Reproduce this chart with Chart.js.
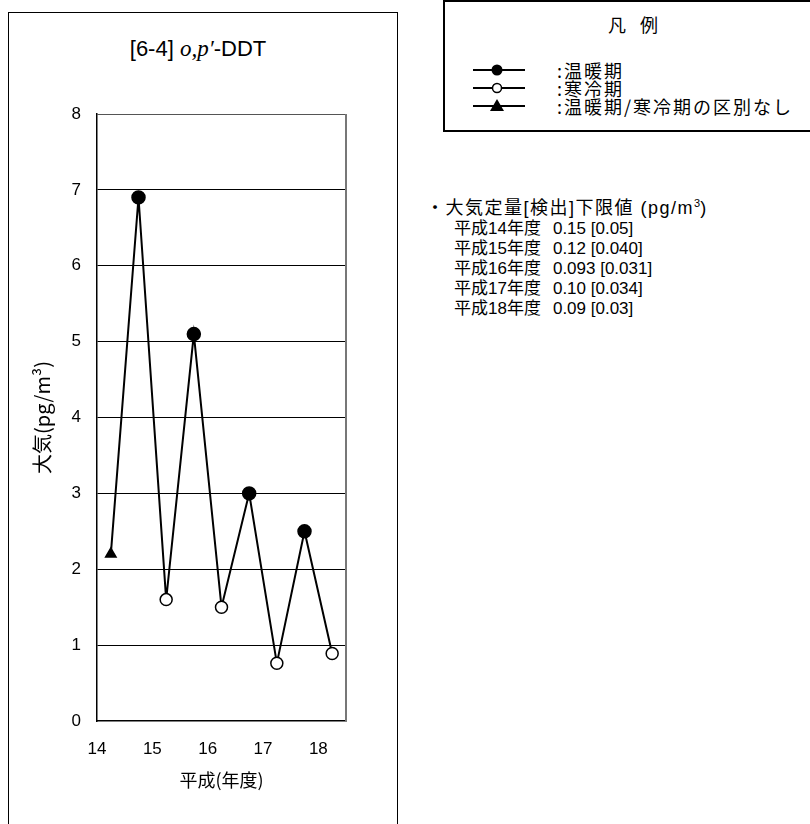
<!DOCTYPE html>
<html lang="ja">
<head>
<meta charset="utf-8">
<title>o,p'-DDT 大気</title>
<script src="https://cdn.jsdelivr.net/npm/chart.js@4.4.1/dist/chart.umd.min.js"></script>
<style>
  html, body { margin: 0; padding: 0; background: #fff; overflow: hidden; }
  body { width: 810px; height: 824px; position: relative;
         font-family: "Liberation Sans", "Noto Sans CJK JP", sans-serif; color: #000; }
  #panel { position: absolute; left: 8px; top: 12px; width: 388px; height: 830px;
           border: 1px solid #000; }
  #chart-wrap { position: absolute; left: 9px; top: 13px; width: 387px; height: 811px; }
  #title { position: absolute; left: 8px; top: 36px; width: 380px; text-align: center;
           font-size: 22px; line-height: 26px; }
  #title i { font-family: "Liberation Serif", serif; font-size: 23px; }
  #legend { position: absolute; left: 443px; top: 0px; width: 400px; height: 132px;
            border: 2px solid #000; box-sizing: border-box; }
  #legend .head { position: absolute; left: 0; width: 390px; top: 10px; text-align: center;
                  font-size: 18px; line-height: 24px; letter-spacing: 14px;
                  font-family: "Noto Sans CJK JP", sans-serif; }
  #legend .row { position: absolute; left: 28px; height: 18px; font-size: 18px;
                 font-family: "Noto Sans CJK JP", sans-serif; line-height: 18px; }
  #legend .row svg { position: absolute; left: 0; top: 0; }
  #legend .row span { position: absolute; left: 84px; white-space: nowrap; letter-spacing: 2px; }
  #notes { position: absolute; left: 426px; top: 197px; font-size: 17px; line-height: 20px;
           font-family: "Liberation Sans", "Noto Sans CJK JP", sans-serif; white-space: nowrap; }
  #notes .h { font-size: 18px; letter-spacing: 1.5px; line-height: 22px; }
  #notes .r { padding-left: 28px; }
  #notes .r b { font-weight: normal; margin-left: 12px; }
  #notes sup { font-size: 11px; vertical-align: 7px; line-height: 0; letter-spacing: 0; }
</style>
</head>
<body>
<div id="panel"></div>
<div id="title">[6-4] <i>o,p′</i>-DDT</div>
<div id="chart-wrap"><canvas id="ddt-chart" width="387" height="811"></canvas></div>

<div id="legend">
  <div class="head">凡例</div>
  <div class="row" style="top:59px">
    <svg width="60" height="18"><line x1="0" y1="9" x2="52" y2="9" stroke="#000" stroke-width="2"/><circle cx="24" cy="9" r="5.5" fill="#000"/></svg>
    <span>:温暖期</span>
  </div>
  <div class="row" style="top:77px">
    <svg width="60" height="18"><line x1="0" y1="9" x2="52" y2="9" stroke="#000" stroke-width="2"/><circle cx="24" cy="9" r="4.5" fill="#fff" stroke="#000" stroke-width="1.5"/></svg>
    <span>:寒冷期</span>
  </div>
  <div class="row" style="top:95px">
    <svg width="60" height="18"><line x1="0" y1="9" x2="52" y2="9" stroke="#000" stroke-width="2"/><polygon points="24,2 31,14 17,14" fill="#000"/></svg>
    <span>:温暖期/寒冷期の区別なし</span>
  </div>
</div>

<div id="notes"><div class="h">・大気定量[検出]下限値 (pg/m<sup>3</sup>)</div><div class="r">平成14年度<b>0.15 [0.05]</b></div><div class="r">平成15年度<b>0.12 [0.040]</b></div><div class="r">平成16年度<b>0.093 [0.031]</b></div><div class="r">平成17年度<b>0.10 [0.034]</b></div><div class="r">平成18年度<b>0.09 [0.03]</b></div></div>

<script>
  // données
  const years = [14.25, 14.75, 15.25, 15.75, 16.25, 16.75, 17.25, 17.75, 18.25];
  const periods = ['none', 'warm', 'cold', 'warm', 'cold', 'warm', 'cold', 'warm', 'cold'];
  const values = [2.2, 6.9, 1.6, 5.1, 1.5, 3.0, 0.76, 2.5, 0.89];
  const xTicks = [14, 15, 16, 17, 18];
  const yTicks = [0, 1, 2, 3, 4, 5, 6, 7, 8];

  const tickFont = { family: '"Liberation Sans", "Noto Sans CJK JP", sans-serif', size: 17 };

  // bord droit gris de la zone de tracé
  const frame = {
    id: 'frame',
    afterDraw(chart) {
      const a = chart.chartArea, c = chart.ctx;
      c.save();
      c.strokeStyle = '#777';
      c.lineWidth = 2;
      c.beginPath();
      c.moveTo(a.right, a.top);
      c.lineTo(a.right, a.bottom);
      c.stroke();
      c.restore();
    }
  };

  const ctx = document.getElementById('ddt-chart');
  new Chart(ctx, {
    type: 'line',
    data: {
      datasets: [{
        data: years.map((x, i) => ({ x: x, y: values[i] })),
        borderColor: '#000',
        borderWidth: 2,
        tension: 0,
        pointStyle: periods.map(p => p === 'none' ? 'triangle' : 'circle'),
        pointRadius: periods.map(p => p === 'warm' ? 6.5 : 6),
        pointBackgroundColor: periods.map(p => p === 'cold' ? '#fff' : '#000'),
        pointBorderColor: '#000',
        pointBorderWidth: 1.5
      }]
    },
    options: {
      responsive: false,
      animation: false,
      layout: { padding: { left: 0, right: 50, top: 101, bottom: 23 } },
      scales: {
        x: {
          type: 'linear',
          min: 14,
          max: 18.5,
          afterBuildTicks: s => { s.ticks = xTicks.map(v => ({ value: v })); },
          afterFit: s => { s.height = 80; },
          grid: { display: false, drawTicks: false },
          border: { color: '#000', width: 1.5 },
          ticks: { color: '#000', font: tickFont, padding: 18, maxRotation: 0 },
          title: {
            display: true, text: '平成(年度)', color: '#000',
            font: { family: '"Noto Sans CJK JP", sans-serif', size: 18 },
            padding: { top: 0, bottom: 10 }
          }
        },
        y: {
          min: 0,
          max: 8,
          afterBuildTicks: s => { s.ticks = yTicks.map(v => ({ value: v })); },
          afterFit: s => { s.width = 88; },
          grid: {
            drawTicks: false,
            color: c => c.tick.value === 0 ? 'rgba(0,0,0,0)' : (c.tick.value === 8 ? '#555' : '#000'),
            lineWidth: 1
          },
          border: { color: '#000', width: 1.5 },
          ticks: { color: '#000', font: tickFont, padding: 16 },
          title: {
            display: true, text: '大気(pg/m³)', color: '#000',
            font: { family: '"Noto Sans CJK JP", sans-serif', size: 20 },
            padding: { top: 21, bottom: 0 }
          }
        }
      },
      plugins: {
        legend: { display: false },
        tooltip: { enabled: false }
      }
    },
    plugins: [frame]
  });
</script>
</body>
</html>
